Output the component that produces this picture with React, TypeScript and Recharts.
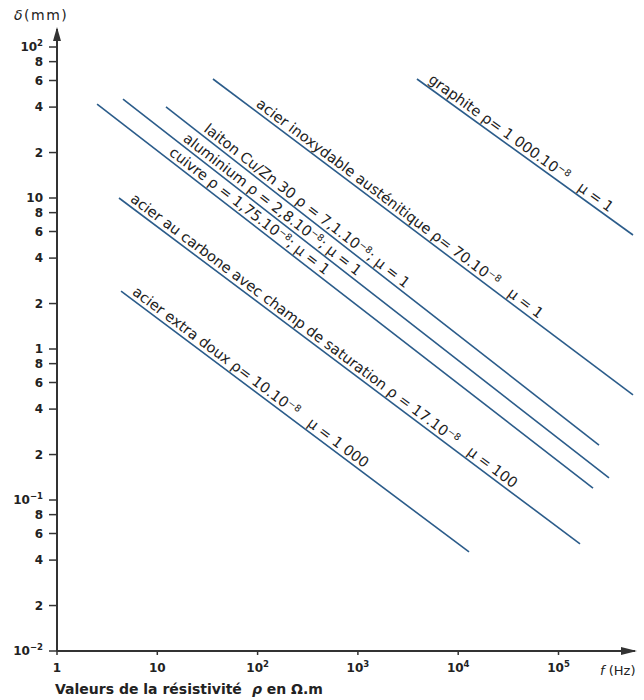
import { LineChart, Line, XAxis, YAxis } from 'recharts'

const materials = ['graphite', 'inox', 'laiton', 'aluminium', 'cuivre', 'carbone', 'extraDoux']
const fStart = [3880, 35.9, 12.2, 4.55, 2.51, 4.15, 4.35]
const fEnd = [553000, 553000, 253500, 318700, 220800, 163800, 12820]
const dStart = [61.4, 61.4, 40.1, 45.2, 41.9, 10, 2.42]
const dEnd = [5.69, 0.496, 0.231, 0.14, 0.12, 0.0512, 0.0453]

const labelHead = [
  'graphite ρ= 1 000.10',
  'acier inoxydable austénitique ρ= 70.10',
  'laiton Cu/Zn 30 ρ = 7,1.10',
  'aluminium ρ = 2,8.10',
  'cuivre ρ = 1,75.10',
  'acier au carbone avec champ de saturation ρ = 17.10',
  'acier extra doux ρ= 10.10',
]
const labelExp = ['−8', '−8', '−8', '−8', '−8', '−8', '−8']
const labelTail = ['μ = 1', 'μ = 1', '; μ = 1', '; μ = 1', '; μ = 1', 'μ = 100', 'μ = 1 000']

const xTicks = [1, 10, 100, 1000, 10000, 100000]
const yTicks = [
  0.01, 0.02, 0.04, 0.06, 0.08,
  0.1, 0.2, 0.4, 0.6, 0.8,
  1, 2, 4, 6, 8,
  10, 20, 40, 60, 80,
  100,
]

// placement des étiquettes le long des droites (px)
const labelAlong = [10, 50, 44, 72, 87, 10, 10]
const labelGap = [14, 14, 0, 0, 0, 14, 14]

const FONT = '"DejaVu Sans", "Liberation Sans", sans-serif'
const LINE = '#2b5c8a'
const INK = '#222'

const sup = (v: number): [string, string] => {
  if (v === 100) return ['10', '2']
  if (v === 1000) return ['10', '3']
  if (v === 10000) return ['10', '4']
  if (v === 100000) return ['10', '5']
  if (v === 10) return ['10', '']
  if (v === 1) return ['1', '']
  if (v === 0.1) return ['10', '−1']
  if (v === 0.01) return ['10', '−2']
  const lead = Math.round(v / Math.pow(10, Math.floor(Math.log10(v) + 1e-9)))
  return [String(lead), '']
}

const XTick = (props: any) => {
  const { x, y, payload } = props
  const [base, exp] = sup(payload.value)
  return (
    <text x={x} y={y} dy="0.71em" textAnchor="middle" fontSize={12} fontFamily={FONT} fontWeight={600} fill={INK}>
      {base}
      {exp && <tspan dy={-5} fontSize={8.5}>{exp}</tspan>}
    </text>
  )
}

const YTick = (props: any) => {
  const { x, y, payload } = props
  const [base, exp] = sup(payload.value)
  return (
    <text x={x} y={y} dy="0.36em" textAnchor="end" fontSize={12} fontFamily={FONT} fontWeight={600} fill={INK}>
      {base}
      {exp && <tspan dy={-5} fontSize={8.5}>{exp}</tspan>}
    </text>
  )
}

const makeLabel = (i: number) => (props: any) => {
  const { cx, cy, index, points } = props
  if (index !== 0) return <g key={`lbl-${i}-${index}`} />
  let ang = 37
  if (points && points.length > 1) {
    const a = points[0]
    const b = points[points.length - 1]
    ang = (Math.atan2(b.y - a.y, b.x - a.x) * 180) / Math.PI
  }
  const r = (ang * Math.PI) / 180
  const off = 4
  const x = cx + labelAlong[i] * Math.cos(r) + off * Math.sin(r)
  const y = cy + labelAlong[i] * Math.sin(r) - off * Math.cos(r)
  return (
    <text
      key={`lbl-${i}`}
      transform={`translate(${x},${y}) rotate(${ang})`}
      fontSize={14.5}
      fontFamily={FONT}
      fill={INK}
    >
      {labelHead[i]}
      <tspan dy={-5} fontSize={9.5}>{labelExp[i]}</tspan>
      <tspan dy={5} dx={labelGap[i]}>{labelTail[i]}</tspan>
    </text>
  )
}

export default function App() {
  return (
    <div style={{ position: 'absolute', left: 0, top: 0, width: 644, height: 700, background: '#fff', fontFamily: FONT }}>
      <LineChart width={644} height={700} margin={{ top: 29, right: 9, bottom: 19, left: 0 }}>
        <XAxis
          dataKey="f"
          type="number"
          scale="log"
          domain={[1, 579000]}
          allowDataOverflow
          ticks={xTicks}
          interval={0}
          height={30}
          tickSize={4}
          tickMargin={8}
          tick={XTick}
          axisLine={{ stroke: '#333', strokeWidth: 2 }}
          tickLine={{ stroke: '#333', strokeWidth: 1.5 }}
        />
        <YAxis
          type="number"
          scale="log"
          domain={[0.01, 131.6]}
          allowDataOverflow
          ticks={yTicks}
          interval={0}
          width={57}
          tickSize={8}
          tickMargin={6}
          tick={YTick}
          axisLine={{ stroke: '#333', strokeWidth: 2 }}
          tickLine={{ stroke: '#333', strokeWidth: 1.5 }}
        />
        {materials.map((m, i) => (
          <Line
            key={m}
            name={m}
            data={[
              { f: fStart[i], d: dStart[i] },
              { f: fEnd[i], d: dEnd[i] },
            ]}
            dataKey="d"
            type="linear"
            stroke={LINE}
            strokeWidth={1.6}
            dot={makeLabel(i)}
            activeDot={false}
            isAnimationActive={false}
          />
        ))}
      </LineChart>
      <svg width={644} height={700} style={{ position: 'absolute', left: 0, top: 0, pointerEvents: 'none' }}>
        <polygon points="57,27 53,41 61,41" fill="#333" />
        <polygon points="637,651 621,647 621,655" fill="#333" />
        <text x={14} y={20} fontSize={14} fontFamily={FONT} fill={INK} letterSpacing={1.5}>
          <tspan fontStyle="italic">δ</tspan>(mm)
        </text>
        <text x={600} y={675} fontSize={13} fontFamily={FONT} fill={INK}>
          <tspan fontStyle="italic">f</tspan> (Hz)
        </text>
        <text x={55} y={694} fontSize={14} fontFamily={FONT} fontWeight={600} fill={INK}>
          Valeurs de la résistivité
          <tspan dx={10} fontStyle="italic">ρ</tspan> en Ω.m
        </text>
      </svg>
    </div>
  )
}
